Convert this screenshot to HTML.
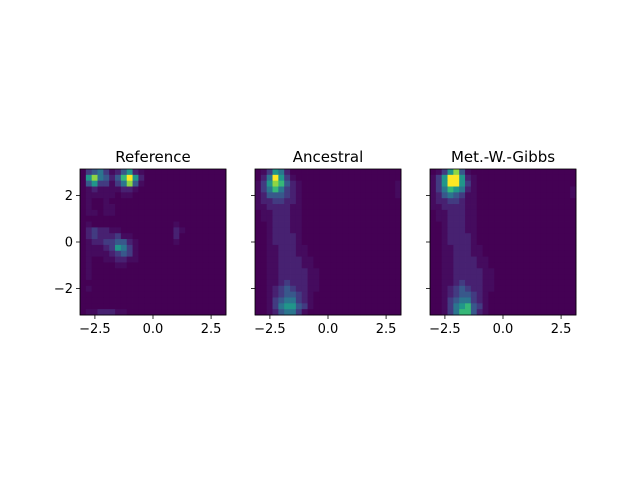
<!DOCTYPE html>
<html><head><meta charset="utf-8"><style>
body{margin:0;background:#fff;}
svg{display:block;font-family:"DejaVu Sans","Liberation Sans",sans-serif;}
</style></head><body>
<svg id="fig" width="640" height="480" viewBox="0 0 640 480"></svg>
<script>
const panelTitles = ["Reference","Ancestral","Met.-W.-Gibbs"];
const xTicks = [-2.5, 0.0, 2.5];
const xTickLabels = ["\u22122.5","0.0","2.5"];
const yTicks = [2, 0, -2];
const yTickLabels = ["2","0","\u22122"];
const refGrid = [
"0345312462100000000000000","0685424796200000000000000","0463313584100000000000000",
"0121111221000000000000000","0111110110000000000000000","0100100000000000000000000",
"0100110000000000000000000","0110110000000000000000000","0000000000000000000000000",
"0100000000000000100000000","0232211000000000210000000","0232223110000000200000000",
"0122334421000000100000000","0111236531000000000000000","0111123431000000000000000",
"0100112211000000000000000","0100001100000000000000000","0100000000000000000000000",
"0100000000000000000000000","0000000000000000000000000","0100000000000000000000000",
"0000000000000000000000000","0000000000000000000000000","0000000000000000000000000",
"0112221100000000000000000"];
const ancGrid = [
"0136520000000000000000000","0259631000000000000000000","1368742100000000000000001",
"1357532100000000000000001","1244432100000000000000001","1223322100000000000000000",
"1122221100000000000000000","0112221100000000000000000","0112221100000000000000000",
"0012221100000000000000000","0012221100000000000000000","0012222100000000000000000",
"0012222100000000000000000","0011222110000000000000000","0011222110000000000000000",
"0011222211000000000000000","0011222211000000000000000","0011222221100000000000000",
"0011222221100000000000000","0011232221100000000000000","0012343221100000000000000",
"0012344321000000000000000","0013455321000000000000000","0013566431000000000000000",
"0012455310000000000000000"];
const mwgGrid = [
"0136841000000000000000000","1369962100000000000000000","1369963100000000000000000",
"1357652100000000000000001","1245431100000000000000001","1223321100000000000000000",
"1122221100000000000000000","0112221100000000000000000","0112221100000000000000000",
"0012221100000000000000000","0012221100000000000000000","0012222100000000000000000",
"0012222100000000000000000","0011222110000000000000000","0011222110000000000000000",
"0011222211000000000000000","0011222211000000000000000","0011222221100000000000000",
"0011222221100000000000000","0011232221100000000000000","0012343221100000000000000",
"0012344321000000000000000","0013455321000000000000000","0013567431000000000000000",
"0013577421000000000000000"];
const grids = [refGrid, ancGrid, mwgGrid];

const NS="http://www.w3.org/2000/svg";
const svg=document.getElementById('fig');
const axLefts=[80,255,430], axTop=169, axSize=146, PI=Math.PI;
const vir=[[68,1,84],[72,40,120],[62,74,137],[49,104,142],[38,130,142],[31,158,137],[53,183,121],[110,206,88],[181,222,43],[253,231,37]];
function viridis(t){t=Math.max(0,Math.min(1,t))*9;const i=Math.min(8,Math.floor(t)),f=t-i;const a=vir[i],b=vir[i+1];
return `rgb(${Math.round(a[0]+(b[0]-a[0])*f)},${Math.round(a[1]+(b[1]-a[1])*f)},${Math.round(a[2]+(b[2]-a[2])*f)})`;}
function mk(tag,attrs){const e=document.createElementNS(NS,tag);for(const k in attrs)e.setAttribute(k,attrs[k]);svg.appendChild(e);return e;}
grids.forEach((g,p)=>{
  const L=axLefts[p];
  const xScale=v=>L+(v+PI)/(2*PI)*axSize;
  const yScale=v=>axTop+(PI-v)/(2*PI)*axSize;
  const n=g.length, m=g[0].length;
  const cw=axSize/m, ch=axSize/n;
  g.forEach((row,r)=>{for(let c=0;c<m;c++){
    const v=+row[c];
    const x0=xScale(-PI+c*2*PI/m), y0=yScale(PI-r*2*PI/n);
    const rc=mk('rect',{x:x0.toFixed(2),y:y0.toFixed(2),width:(cw+0.4).toFixed(2),height:(ch+0.4).toFixed(2),fill:viridis(Math.pow(v/9,1.6))});
    
    
  }});
  const fr=mk('rect',{x:L,y:axTop,width:axSize,height:axSize,fill:'none',stroke:'#000','stroke-width':0.8});
  
  
  const t=mk('text',{x:L+axSize/2,y:axTop-7,'text-anchor':'middle','font-size':'15'});
  t.textContent=panelTitles[p];
  
  
  xTicks.forEach((v,i)=>{const x=xScale(v);
    const tk=mk('line',{x1:x,x2:x,y1:axTop+axSize,y2:axTop+axSize+4,stroke:'#000','stroke-width':0.8});
    
    
    const lb=mk('text',{x:x,y:axTop+axSize+18,'text-anchor':'middle','font-size':'13'});
    lb.textContent=xTickLabels[i];
    
    
  });
  yTicks.forEach((v,i)=>{const y=yScale(v);
    const tk=mk('line',{x1:L-4,x2:L,y1:y,y2:y,stroke:'#000','stroke-width':0.8});
    
    
    if(p===0){const lb=mk('text',{x:L-7,y:y+4.5,'text-anchor':'end','font-size':'13'});
      lb.textContent=yTickLabels[i];
      
      }
  });
});
</script>
</body></html>
